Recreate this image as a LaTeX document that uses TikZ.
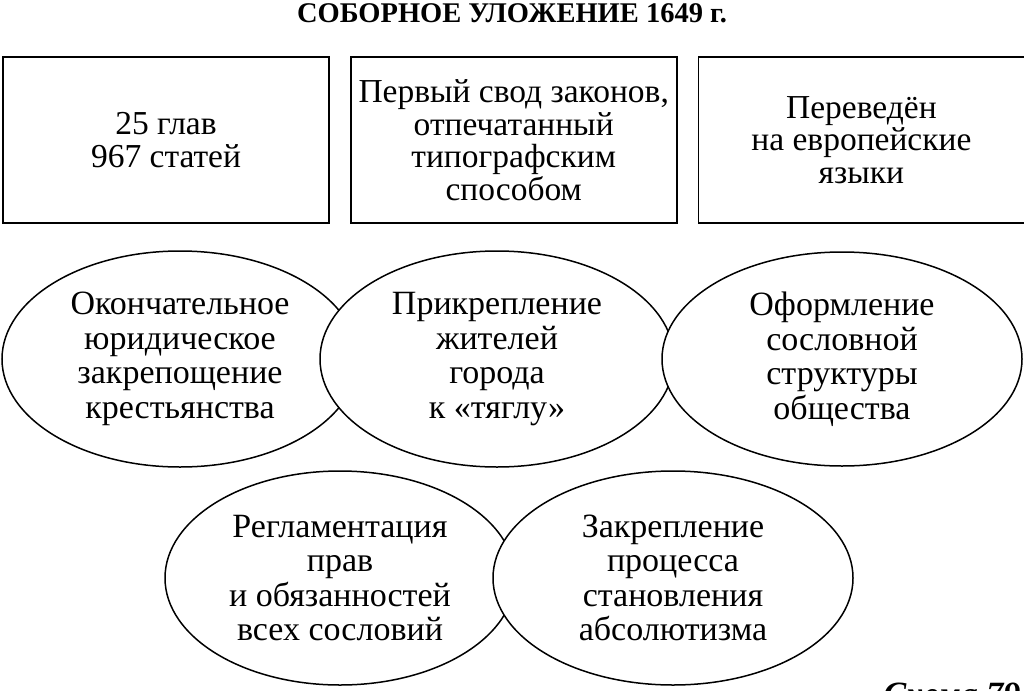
\documentclass[tikz,border=0pt]{standalone}
\usepackage{fontspec}
\setmainfont{Liberation Serif}
\usetikzlibrary{shapes.geometric,positioning}

\begin{document}
\begin{tikzpicture}[
  x=1pt, y=-1pt,
  node distance=20pt,
  box/.style={draw, rectangle, minimum width=326pt, minimum height=166pt, inner sep=0pt,
              align=center, line width=1.7pt, font=\fontsize{33.5}{32.5}\selectfont},
  oval/.style={draw, ellipse, fill=white, inner sep=0pt, align=center,
               line width=1.5pt, font=\fontsize{34}{34.5}\selectfont},
]
  \useasboundingbox (0,0) rectangle (1024,690);
  \node[anchor=base, font=\bfseries\fontsize{28.5}{30}\selectfont] (title) at (512,23)
    {СОБОРНОЕ УЛОЖЕНИЕ 1649 г.};

  % top row
  \node[box] (chapters) at (166,140) {25 глав\\967 статей};
  \node[box, right=of chapters] (printed) {Первый свод законов,\\отпечатанный\\типографским\\способом};
  \node[box, right=of printed] (translated) {Переведён\\на европейские\\языки};

  % middle row, each one drawn over the one before
  \node[oval, minimum width=356pt, minimum height=216pt] (serfs) at (180,359)
    {Окончательное\\юридическое\\закрепощение\\крестьянства};
  \node[oval, minimum width=354pt, minimum height=216pt] (towns) at (497,359)
    {Прикрепление\\жителей\\города\\к «тяглу»};
  \node[oval, minimum width=360pt, minimum height=214pt] (estates) at (842,359)
    {Оформление\\сословной\\структуры\\общества};

  % bottom row
  \node[oval, minimum width=350pt, minimum height=214pt] (rights) at (340,578)
    {Регламентация\\прав\\и обязанностей\\всех сословий};
  \node[oval, minimum width=360pt, minimum height=214pt] (absolut) at (673,578)
    {Закрепление\\процесса\\становления\\абсолютизма};

  \node[anchor=base west, font=\bfseries\itshape\fontsize{34}{36}\selectfont] (scheme) at (880,705)
    {Схема 79};
\end{tikzpicture}
\end{document}
